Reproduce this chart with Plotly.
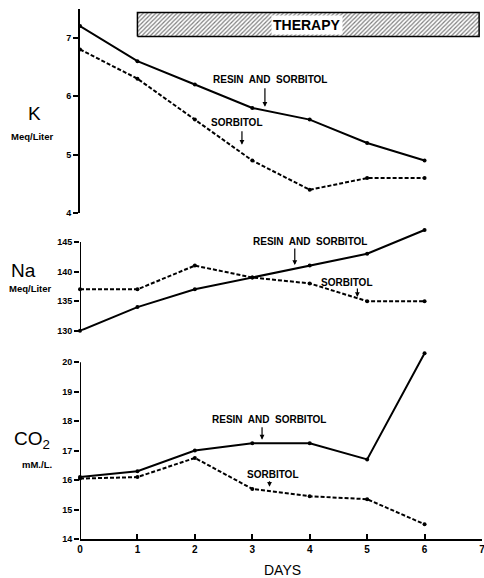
import plotly.graph_objects as go

days = [0, 1, 2, 3, 4, 5, 6]
k_resin = [7.2, 6.6, 6.2, 5.8, 5.6, 5.2, 4.9]
k_sorb = [6.8, 6.3, 5.6, 4.9, 4.4, 4.6, 4.6]
na_resin = [130, 134, 137, 139, 141, 143, 147]
na_sorb = [137, 137, 141, 139, 138, 135, 135]
co2_resin = [16.1, 16.3, 17.0, 17.25, 17.25, 16.7, 20.3]
co2_sorb = [16.05, 16.1, 16.75, 15.7, 15.45, 15.35, 14.5]

x_ticks = [0, 1, 2, 3, 4, 5, 6, 7]
k_ticks = [4, 5, 6, 7]
na_ticks = [130, 135, 140, 145]
co2_ticks = [14, 15, 16, 17, 18, 19, 20]
therapy_x = [1, 6.95]
therapy_y = [7.02, 7.43]

FONT = "Liberation Sans"
fig = go.Figure()

def add_pair(resin, sorb, ya):
    fig.add_trace(go.Scatter(x=days, y=resin, mode="lines+markers", yaxis=ya,
                             line=dict(color="black", width=2),
                             marker=dict(color="black", size=4), showlegend=False,
                             cliponaxis=False))
    fig.add_trace(go.Scatter(x=days, y=sorb, mode="lines+markers", yaxis=ya,
                             line=dict(color="black", width=2, dash="4px,2px"),
                             marker=dict(color="black", size=4), showlegend=False,
                             cliponaxis=False))

add_pair(k_resin, k_sorb, "y")
add_pair(na_resin, na_sorb, "y2")
add_pair(co2_resin, co2_sorb, "y3")

# therapy bar
fig.add_trace(go.Scatter(
    x=[therapy_x[0], therapy_x[1], therapy_x[1], therapy_x[0], therapy_x[0]],
    y=[therapy_y[0], therapy_y[0], therapy_y[1], therapy_y[1], therapy_y[0]],
    mode="lines", fill="toself", yaxis="y",
    line=dict(color="black", width=1.5),
    fillcolor="white",
    fillpattern=dict(shape="/", fgcolor="black", bgcolor="white", size=3, solidity=0.4),
    showlegend=False, hoverinfo="skip"))

def bt(vals):
    return ["<b>%s</b>" % v for v in vals]

tickfont = dict(family=FONT, size=9, color="black")
common_y = dict(showgrid=False, zeroline=False, ticks="outside", ticklen=5,
                tickwidth=2, tickcolor="black", tickfont=tickfont, linecolor="black",
                linewidth=2)

fig.update_layout(
    width=484, height=578,
    margin=dict(l=80, r=1.5, t=0, b=38.7),
    paper_bgcolor="white", plot_bgcolor="white",
    xaxis=dict(range=[0, 7], anchor="y3", tickvals=x_ticks, ticktext=bt(x_ticks),
               ticks="inside", ticklen=5, tickwidth=2, tickcolor="black",
               showline=True, linecolor="black", linewidth=2, showgrid=False,
               zeroline=False, automargin=False, ticklabeloverflow="allow",
               tickfont=dict(family=FONT, size=10, color="black")),
    xaxis2=dict(range=[0, 7], anchor="y", matches="x", showticklabels=False,
                ticks="inside", ticklen=3, tickwidth=1, tickcolor="black",
                tickvals=x_ticks, showline=True, linecolor="black", linewidth=2,
                showgrid=False, zeroline=False),
    xaxis3=dict(range=[0, 7], anchor="y2", matches="x", showticklabels=False,
                ticks="", showline=True, linecolor="black", linewidth=2,
                showgrid=False, zeroline=False),
    yaxis=dict(domain=[0.6045, 0.9842], range=[4, 7.5], tickvals=k_ticks,
               ticktext=bt(k_ticks), showline=True, **common_y),
    yaxis2=dict(domain=[0.3862, 0.5787], range=[130, 147.5], tickvals=na_ticks,
                ticktext=bt(na_ticks), showline=False, **common_y),
    yaxis3=dict(domain=[0.0, 0.350], range=[14, 20.4], tickvals=co2_ticks,
                ticktext=bt(co2_ticks), showline=False, **common_y),
)

# axis lines that stop at the top tick (Na and CO2)
fig.add_shape(type="line", xref="x", yref="y2", x0=0, x1=0, y0=130, y1=145,
              line=dict(color="black", width=2))
fig.add_shape(type="line", xref="x", yref="y3", x0=0, x1=0, y0=14, y1=20,
              line=dict(color="black", width=2))

ann_font = dict(family=FONT, size=10, color="black")

def label(text, x, y, yref):
    fig.add_annotation(text="<b>%s</b>" % text, x=x, y=y, xref="x", yref=yref,
                       xanchor="center", yanchor="middle",
                       showarrow=False, font=ann_font)

def arrow(x, y, yref, length):
    fig.add_annotation(text="", x=x, y=y, xref="x", yref=yref, ax=0, ay=-length,
                       showarrow=True, arrowhead=2, arrowsize=0.8, arrowwidth=1.2,
                       arrowcolor="black")

# K panel
label("RESIN  AND  SORBITOL", 3.30, 6.28, "y")
arrow(3.22, 5.82, "y", 20)
label("SORBITOL", 2.73, 5.55, "y")
arrow(2.82, 5.17, "y", 15)
# Na panel
label("RESIN  AND  SORBITOL", 4.0, 145.06, "y2")
arrow(3.74, 141.1, "y2", 18)
label("SORBITOL", 4.64, 138.1, "y2")
arrow(4.83, 135.7, "y2", 10)
# CO2 panel
label("RESIN  AND  SORBITOL", 3.29, 18.04, "y3")
arrow(3.17, 17.37, "y3", 14)
label("SORBITOL", 3.36, 16.18, "y3")
arrow(3.30, 15.77, "y3", 7)

fig.add_annotation(text="<b>THERAPY</b>", x=3.95, y=7.225, xref="x", yref="y",
                   xanchor="center", yanchor="middle",
                   showarrow=False, bgcolor="white", borderpad=1,
                   font=dict(family=FONT, size=14, color="black"))

big = dict(family=FONT, size=19, color="black")
small = dict(family=FONT, size=9.5, color="black")
def side(text, x, y, font):
    fig.add_annotation(text=text, x=x, y=y, xref="paper", yref="paper",
                       xanchor="center", yanchor="middle",
                       showarrow=False, font=font)

side("K", -0.114, 0.789, big)
side("<b>Meq/Liter</b>", -0.119, 0.747, small)
side("Na", -0.140, 0.499, big)
side("<b>Meq/Liter</b>", -0.124, 0.464, small)
side("CO<sub>2</sub>", -0.119, 0.184, big)
side("<b>mM./L.</b>", -0.107, 0.138, small)

fig.add_annotation(text="DAYS", x=0.504, y=-0.057, xref="paper", yref="paper",
                   xanchor="center", yanchor="middle",
                   showarrow=False, font=dict(family=FONT, size=14, color="black"))

fig.write_html("out.html", post_script="document.body.style.margin='0';",
               config={"displayModeBar": False})
